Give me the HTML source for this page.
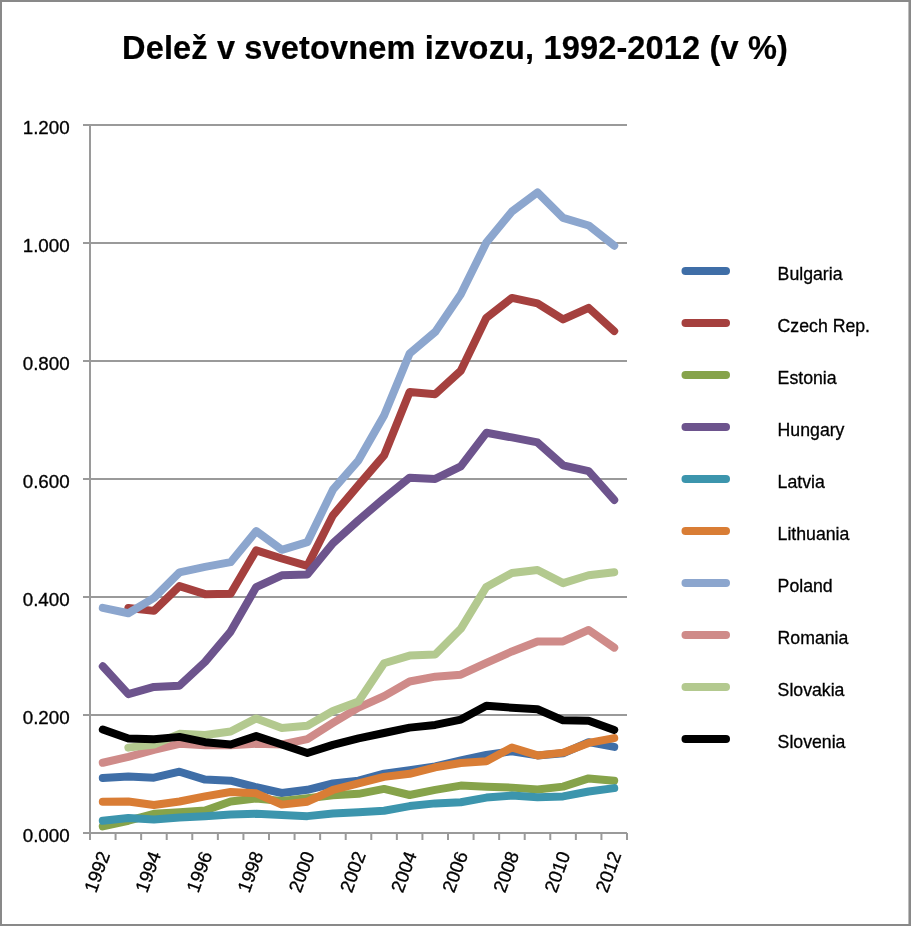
<!DOCTYPE html>
<html><head><meta charset="utf-8"><style>
html,body{margin:0;padding:0;background:#fff;}
body{width:911px;height:926px;overflow:hidden;position:relative;}
svg{position:absolute;left:0;top:0;will-change:transform;}
text{font-family:"Liberation Sans",sans-serif;fill:#000;stroke:#000;stroke-width:0.3px;}
.tt{stroke-width:0.2px;}
.yl{font-size:18.8px;}
.xl{font-size:18.8px;}
.lg{font-size:17.7px;}
.tt{font-size:32.5px;font-weight:bold;letter-spacing:0.16px;}
</style></head><body>
<svg width="911" height="926" viewBox="0 0 911 926">
<rect x="1" y="1" width="909" height="924" fill="#fff" stroke="#898989" stroke-width="2"/><rect x="908" y="2" width="1" height="922" fill="#bdbdbd"/>
<text x="455" y="58.9" text-anchor="middle" class="tt">Delež v svetovnem izvozu, 1992-2012 (v %)</text>
<line x1="83" y1="833.0" x2="627" y2="833.0" stroke="#9a9a9a" stroke-width="2"/>
<line x1="83" y1="715.0" x2="627" y2="715.0" stroke="#9a9a9a" stroke-width="2"/>
<line x1="83" y1="597.0" x2="627" y2="597.0" stroke="#9a9a9a" stroke-width="2"/>
<line x1="83" y1="479.0" x2="627" y2="479.0" stroke="#9a9a9a" stroke-width="2"/>
<line x1="83" y1="361.0" x2="627" y2="361.0" stroke="#9a9a9a" stroke-width="2"/>
<line x1="83" y1="243.0" x2="627" y2="243.0" stroke="#9a9a9a" stroke-width="2"/>
<line x1="83" y1="125.0" x2="627" y2="125.0" stroke="#9a9a9a" stroke-width="2"/>
<line x1="90" y1="124" x2="90" y2="834" stroke="#9a9a9a" stroke-width="2"/>
<line x1="90.00" y1="833" x2="90.00" y2="840" stroke="#9a9a9a" stroke-width="2"/>
<line x1="115.57" y1="833" x2="115.57" y2="840" stroke="#9a9a9a" stroke-width="2"/>
<line x1="141.14" y1="833" x2="141.14" y2="840" stroke="#9a9a9a" stroke-width="2"/>
<line x1="166.71" y1="833" x2="166.71" y2="840" stroke="#9a9a9a" stroke-width="2"/>
<line x1="192.29" y1="833" x2="192.29" y2="840" stroke="#9a9a9a" stroke-width="2"/>
<line x1="217.86" y1="833" x2="217.86" y2="840" stroke="#9a9a9a" stroke-width="2"/>
<line x1="243.43" y1="833" x2="243.43" y2="840" stroke="#9a9a9a" stroke-width="2"/>
<line x1="269.00" y1="833" x2="269.00" y2="840" stroke="#9a9a9a" stroke-width="2"/>
<line x1="294.57" y1="833" x2="294.57" y2="840" stroke="#9a9a9a" stroke-width="2"/>
<line x1="320.14" y1="833" x2="320.14" y2="840" stroke="#9a9a9a" stroke-width="2"/>
<line x1="345.71" y1="833" x2="345.71" y2="840" stroke="#9a9a9a" stroke-width="2"/>
<line x1="371.29" y1="833" x2="371.29" y2="840" stroke="#9a9a9a" stroke-width="2"/>
<line x1="396.86" y1="833" x2="396.86" y2="840" stroke="#9a9a9a" stroke-width="2"/>
<line x1="422.43" y1="833" x2="422.43" y2="840" stroke="#9a9a9a" stroke-width="2"/>
<line x1="448.00" y1="833" x2="448.00" y2="840" stroke="#9a9a9a" stroke-width="2"/>
<line x1="473.57" y1="833" x2="473.57" y2="840" stroke="#9a9a9a" stroke-width="2"/>
<line x1="499.14" y1="833" x2="499.14" y2="840" stroke="#9a9a9a" stroke-width="2"/>
<line x1="524.71" y1="833" x2="524.71" y2="840" stroke="#9a9a9a" stroke-width="2"/>
<line x1="550.29" y1="833" x2="550.29" y2="840" stroke="#9a9a9a" stroke-width="2"/>
<line x1="575.86" y1="833" x2="575.86" y2="840" stroke="#9a9a9a" stroke-width="2"/>
<line x1="601.43" y1="833" x2="601.43" y2="840" stroke="#9a9a9a" stroke-width="2"/>
<line x1="627.00" y1="833" x2="627.00" y2="840" stroke="#9a9a9a" stroke-width="2"/>
<text x="69.7" y="842.0" text-anchor="end" class="yl">0.000</text>
<text x="69.7" y="724.0" text-anchor="end" class="yl">0.200</text>
<text x="69.7" y="606.0" text-anchor="end" class="yl">0.400</text>
<text x="69.7" y="488.0" text-anchor="end" class="yl">0.600</text>
<text x="69.7" y="370.0" text-anchor="end" class="yl">0.800</text>
<text x="69.7" y="252.0" text-anchor="end" class="yl">1.000</text>
<text x="69.7" y="134.0" text-anchor="end" class="yl">1.200</text>
<polyline points="102.79,777.95 128.36,776.54 153.93,777.66 179.50,771.70 205.07,779.61 230.64,780.73 256.21,787.27 281.79,793.00 307.36,789.81 332.93,783.50 358.50,780.67 384.07,773.71 409.64,770.11 435.21,766.51 460.79,760.49 486.36,755.00 511.93,751.23 537.50,755.41 563.07,753.35 588.64,742.14 614.21,746.92" fill="none" stroke="#3F6EA7" stroke-width="8" stroke-linecap="round" stroke-linejoin="round"/>
<polyline points="128.36,607.91 153.93,610.87 179.50,586.09 205.07,594.17 230.64,593.75 256.21,550.33 281.79,558.47 307.36,565.91 332.93,515.29 358.50,485.19 384.07,455.40 409.64,391.97 435.21,394.16 460.79,370.74 486.36,317.81 511.93,297.93 537.50,303.30 563.07,319.35 588.64,307.84 614.21,331.09" fill="none" stroke="#A5403E" stroke-width="8" stroke-linecap="round" stroke-linejoin="round"/>
<polyline points="102.79,826.39 128.36,820.73 153.93,813.83 179.50,812.17 205.07,810.52 230.64,801.49 256.21,798.43 281.79,800.90 307.36,798.25 332.93,795.24 358.50,793.82 384.07,788.93 409.64,795.00 435.21,789.93 460.79,785.62 486.36,786.86 511.93,787.63 537.50,789.58 563.07,786.63 588.64,778.42 614.21,780.73" fill="none" stroke="#86A34A" stroke-width="8" stroke-linecap="round" stroke-linejoin="round"/>
<polyline points="102.79,666.33 128.36,694.11 153.93,686.92 179.50,685.68 205.07,661.90 230.64,631.57 256.21,587.09 281.79,575.29 307.36,574.58 332.93,543.31 358.50,520.18 384.07,498.41 409.64,477.70 435.21,478.88 460.79,466.43 486.36,432.80 511.93,437.41 537.50,442.42 563.07,465.31 588.64,471.03 614.21,499.89" fill="none" stroke="#6D548D" stroke-width="8" stroke-linecap="round" stroke-linejoin="round"/>
<polyline points="102.79,820.73 128.36,818.07 153.93,819.61 179.50,817.60 205.07,816.36 230.64,814.59 256.21,813.83 281.79,815.00 307.36,816.13 332.93,813.53 358.50,812.23 384.07,810.70 409.64,806.10 435.21,803.38 460.79,802.20 486.36,797.60 511.93,795.59 537.50,797.25 563.07,796.42 588.64,791.52 614.21,788.10" fill="none" stroke="#3C95AD" stroke-width="8" stroke-linecap="round" stroke-linejoin="round"/>
<polyline points="102.79,801.79 128.36,801.49 153.93,804.92 179.50,801.49 205.07,796.36 230.64,791.94 256.21,793.29 281.79,804.62 307.36,801.73 332.93,789.99 358.50,783.32 384.07,776.89 409.64,773.82 435.21,767.27 460.79,763.03 486.36,761.20 511.93,747.45 537.50,755.41 563.07,752.64 588.64,742.91 614.21,738.07" fill="none" stroke="#D97D35" stroke-width="8" stroke-linecap="round" stroke-linejoin="round"/>
<polyline points="102.79,607.91 128.36,613.23 153.93,597.88 179.50,572.40 205.07,566.91 230.64,562.19 256.21,531.10 281.79,549.80 307.36,542.13 332.93,489.74 358.50,460.30 384.07,415.57 409.64,353.51 435.21,331.91 460.79,294.21 486.36,242.53 511.93,211.49 537.50,192.38 563.07,217.87 588.64,225.48 614.21,245.71" fill="none" stroke="#8CA6CE" stroke-width="8" stroke-linecap="round" stroke-linejoin="round"/>
<polyline points="102.79,762.73 128.36,756.83 153.93,749.93 179.50,743.79 205.07,745.33 230.64,745.33 256.21,743.79 281.79,744.50 307.36,739.07 332.93,722.97 358.50,707.62 384.07,696.12 409.64,681.49 435.21,676.65 460.79,674.70 486.36,662.96 511.93,651.40 537.50,641.43 563.07,641.43 588.64,629.92 614.21,647.62" fill="none" stroke="#CF8B89" stroke-width="8" stroke-linecap="round" stroke-linejoin="round"/>
<polyline points="128.36,747.63 153.93,744.50 179.50,733.82 205.07,735.00 230.64,731.52 256.21,718.42 281.79,727.92 307.36,725.80 332.93,711.05 358.50,701.49 384.07,663.26 409.64,655.59 435.21,654.52 460.79,628.80 486.36,586.91 511.93,572.99 537.50,569.98 563.07,583.13 588.64,575.29 614.21,572.28" fill="none" stroke="#B3C98F" stroke-width="8" stroke-linecap="round" stroke-linejoin="round"/>
<polyline points="102.79,729.51 128.36,738.42 153.93,739.19 179.50,736.89 205.07,742.20 230.64,744.50 256.21,736.12 281.79,744.50 307.36,753.00 332.93,744.85 358.50,738.30 384.07,733.00 409.64,727.63 435.21,724.91 460.79,719.60 486.36,705.80 511.93,707.68 537.50,709.22 563.07,720.31 588.64,720.72 614.21,729.93" fill="none" stroke="#000000" stroke-width="8" stroke-linecap="round" stroke-linejoin="round"/>
<text transform="translate(96.99,871.8) rotate(-70)" text-anchor="middle" dominant-baseline="central" class="xl">1992</text>
<text transform="translate(148.13,871.8) rotate(-70)" text-anchor="middle" dominant-baseline="central" class="xl">1994</text>
<text transform="translate(199.27,871.8) rotate(-70)" text-anchor="middle" dominant-baseline="central" class="xl">1996</text>
<text transform="translate(250.41,871.8) rotate(-70)" text-anchor="middle" dominant-baseline="central" class="xl">1998</text>
<text transform="translate(301.56,871.8) rotate(-70)" text-anchor="middle" dominant-baseline="central" class="xl">2000</text>
<text transform="translate(352.70,871.8) rotate(-70)" text-anchor="middle" dominant-baseline="central" class="xl">2002</text>
<text transform="translate(403.84,871.8) rotate(-70)" text-anchor="middle" dominant-baseline="central" class="xl">2004</text>
<text transform="translate(454.99,871.8) rotate(-70)" text-anchor="middle" dominant-baseline="central" class="xl">2006</text>
<text transform="translate(506.13,871.8) rotate(-70)" text-anchor="middle" dominant-baseline="central" class="xl">2008</text>
<text transform="translate(557.27,871.8) rotate(-70)" text-anchor="middle" dominant-baseline="central" class="xl">2010</text>
<text transform="translate(608.41,871.8) rotate(-70)" text-anchor="middle" dominant-baseline="central" class="xl">2012</text>
<line x1="685.5" y1="271" x2="726" y2="271" stroke="#3F6EA7" stroke-width="8" stroke-linecap="round"/>
<text x="777.6" y="280.0" class="lg">Bulgaria</text>
<line x1="685.5" y1="323" x2="726" y2="323" stroke="#A5403E" stroke-width="8" stroke-linecap="round"/>
<text x="777.6" y="332.0" class="lg">Czech Rep.</text>
<line x1="685.5" y1="375" x2="726" y2="375" stroke="#86A34A" stroke-width="8" stroke-linecap="round"/>
<text x="777.6" y="384.0" class="lg">Estonia</text>
<line x1="685.5" y1="427" x2="726" y2="427" stroke="#6D548D" stroke-width="8" stroke-linecap="round"/>
<text x="777.6" y="436.0" class="lg">Hungary</text>
<line x1="685.5" y1="479" x2="726" y2="479" stroke="#3C95AD" stroke-width="8" stroke-linecap="round"/>
<text x="777.6" y="488.0" class="lg">Latvia</text>
<line x1="685.5" y1="531" x2="726" y2="531" stroke="#D97D35" stroke-width="8" stroke-linecap="round"/>
<text x="777.6" y="540.0" class="lg">Lithuania</text>
<line x1="685.5" y1="583" x2="726" y2="583" stroke="#8CA6CE" stroke-width="8" stroke-linecap="round"/>
<text x="777.6" y="592.0" class="lg">Poland</text>
<line x1="685.5" y1="635" x2="726" y2="635" stroke="#CF8B89" stroke-width="8" stroke-linecap="round"/>
<text x="777.6" y="644.0" class="lg">Romania</text>
<line x1="685.5" y1="687" x2="726" y2="687" stroke="#B3C98F" stroke-width="8" stroke-linecap="round"/>
<text x="777.6" y="696.0" class="lg">Slovakia</text>
<line x1="685.5" y1="739" x2="726" y2="739" stroke="#000000" stroke-width="8" stroke-linecap="round"/>
<text x="777.6" y="748.0" class="lg">Slovenia</text>
</svg>
</body></html>
